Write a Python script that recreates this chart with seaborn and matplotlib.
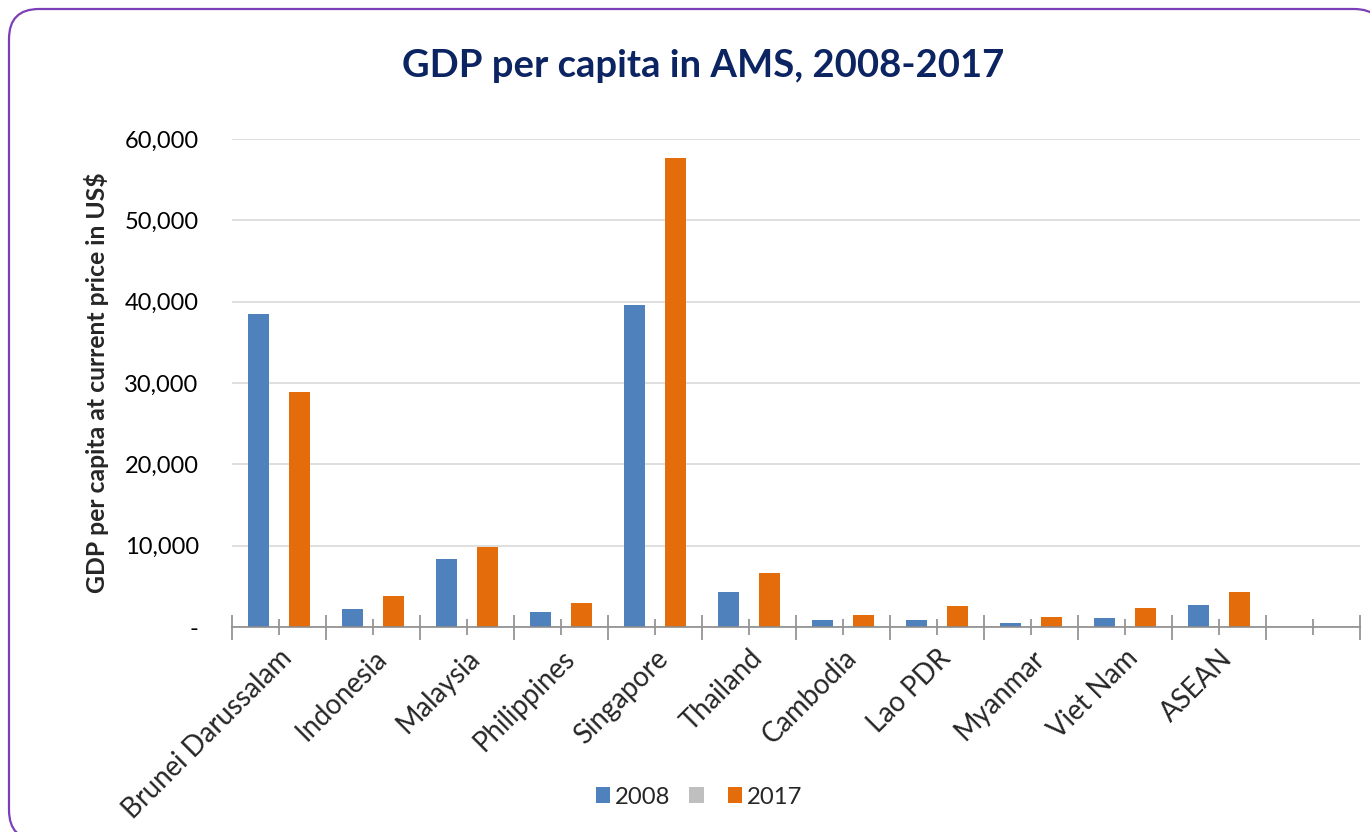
import matplotlib
matplotlib.use("Agg")
import matplotlib.pyplot as plt
from matplotlib.patches import FancyBboxPatch, Patch
from matplotlib.ticker import FixedLocator, FuncFormatter
import seaborn as sns
import pandas as pd
import numpy as np

# GDP per capita at current prices (US$)
countries = ["Brunei Darussalam", "Indonesia", "Malaysia", "Philippines", "Singapore",
             "Thailand", "Cambodia", "Lao PDR", "Myanmar", "Viet Nam", "ASEAN", ""]
gdp_2008 = [38500, 2180, 8330, 1850, 39600, 4330, 800, 900, 490, 1140, 2690, np.nan]
gdp_2017 = [28900, 3810, 9800, 2910, 57700, 6690, 1430, 2530, 1220, 2370, 4290, np.nan]
gdp_blank = [0] * len(countries)
series = ["2008", "", "2017"]
colors = ["#4F81BD", "#BFBFBF", "#E46C0A"]

rows = []
for name, vals in zip(series, [gdp_2008, gdp_blank, gdp_2017]):
    for c, v in zip(countries, vals):
        rows.append({"country": c, "year": name or "blank", "value": 0 if pd.isna(v) else v})
df = pd.DataFrame(rows)
hue_levels = [s or "blank" for s in series]

sns.set_theme(style="white")
plt.rcParams["font.family"] = ["Lato", "DejaVu Sans"]

W, H = 1370, 832
fig = plt.figure(figsize=(W / 100, H / 100), dpi=100)
fig.patch.set_facecolor("white")

# rounded, white-filled frame around the chart area, in pixel units
frame = FancyBboxPatch((9, -8), 1375, 831,
                       boxstyle="round,pad=0,rounding_size=30",
                       transform=None, facecolor="white",
                       edgecolor="#7B3FB8", linewidth=1.6, zorder=-10)
fig.patches.append(frame)

ax = fig.add_axes([232 / W, 1 - 627 / H, (1360 - 232) / W, (627 - 139) / H])
sns.barplot(data=df, x="country", y="value", hue="year", order=countries,
            hue_order=hue_levels, palette=colors, width=0.67, gap=0,
            linewidth=0, saturation=1, ax=ax, legend=False)
ax.patch.set_alpha(0)

ax.set_xlim(-0.5, len(countries) - 0.5)
ax.set_ylim(0, 60000)
ax.set_yticks(np.arange(0, 60001, 10000))
ax.yaxis.set_major_formatter(FuncFormatter(lambda v, p: "-" if v == 0 else f"{int(v):,}"))
ax.grid(axis="y", color="#D9D9D9", linewidth=1.2)
ax.set_axisbelow(True)
for s in ["top", "right", "left"]:
    ax.spines[s].set_visible(False)
ax.spines["bottom"].set_color("#8C8C8C")
ax.spines["bottom"].set_linewidth(1.2)

ax.tick_params(axis="y", left=False, length=0, pad=24, labelsize=17, labelcolor="black")
ax.set_xticks(range(len(countries)))
ax.set_xticklabels(countries, rotation=45, ha="right", va="top",
                   rotation_mode="anchor", fontsize=19.8)
ax.xaxis.set_minor_locator(FixedLocator(np.arange(-0.5, len(countries), 1.0)))
ax.tick_params(axis="x", which="both", bottom=True)
ax.tick_params(axis="x", which="major", direction="inout", length=12, width=1.2,
               color="#8C8C8C", pad=7)
ax.tick_params(axis="x", which="minor", direction="inout", length=18, width=1.2,
               color="#8C8C8C")
ax.set_xlabel("")
ax.set_ylabel("")

fig.text(97 / W, 1 - 383 / H, "GDP per capita at current price in US$",
         rotation=90, ha="center", va="center", fontsize=17.8, fontweight="bold")
fig.text(703 / W, 1 - 66 / H, "GDP per capita in AMS, 2008-2017",
         ha="center", va="center", fontsize=27.5, fontweight="bold", color="#0C2461")

handles = [Patch(facecolor=c, edgecolor="none") for c in colors]
fig.legend(handles, series, loc="center", bbox_to_anchor=(699 / W, 1 - 797 / H),
           ncol=3, frameon=False, fontsize=17.2, handlelength=0.6, handleheight=0.6,
           handletextpad=0.2, columnspacing=0.8)

fig.savefig("out.png", dpi=100, facecolor="white")
